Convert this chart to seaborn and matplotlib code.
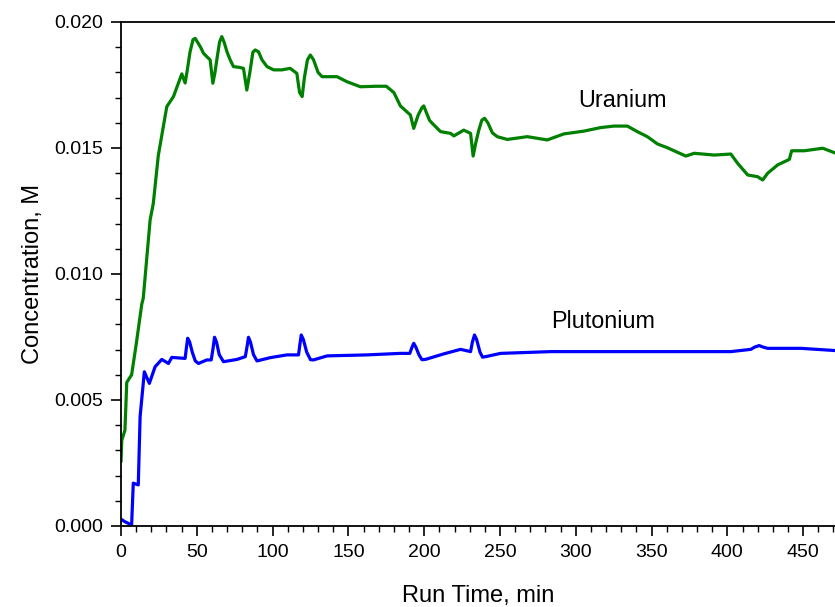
import numpy as np
import pandas as pd
import matplotlib
matplotlib.use("Agg")
import matplotlib.pyplot as plt
import seaborn as sns
from matplotlib.ticker import MultipleLocator, FormatStrFormatter

# Uranium concentration trace (Run Time, min ; Concentration, M)
u_time = [0, 0.5, 2.6, 3.8, 7, 10, 13.7, 14.7, 19.2, 21.3, 24.6, 30.2, 34.6, 40.1, 42.3, 43.5,
          45.5, 47.5, 48.9, 50.5, 52.5, 54.4, 57, 58.8, 60.6, 62, 63.2, 65, 66.5, 68, 70, 72,
          74.2, 78, 80.8, 83, 85, 87, 88.5, 90.7, 93, 96.3, 100.7, 106, 111.6, 116, 117.8,
          119.5, 121, 123, 124.9, 127, 130, 132.6, 142.5, 149.1, 157.9, 168, 175, 180, 184.3,
          190.9, 193.1, 196, 198.5, 199.7, 201.5, 203.5, 205.3, 210.8, 217.4, 219.6, 226.1,
          230.6, 232.3, 234, 236, 238, 239.8, 242, 245, 248.2, 254.8, 268, 281.2, 292.2,
          305.4, 316.4, 325.2, 334, 340.6, 347.2, 353.9, 360.4, 372.6, 378.1, 391.3, 402.3,
          406.8, 413.4, 420, 423.3, 426.6, 433.2, 440.9, 442.4, 450.7, 462.9, 471.7]
u_conc = [0.00255, 0.0034, 0.0038, 0.0057, 0.0060, 0.0072, 0.0088, 0.00905, 0.01214, 0.0128,
          0.0147, 0.01664, 0.01704, 0.01794, 0.01758, 0.0180,
          0.0188, 0.0193, 0.01935, 0.0192, 0.0190, 0.01876, 0.0186, 0.0185, 0.01757, 0.0180,
          0.0185, 0.0192, 0.01942, 0.0192, 0.0188, 0.0185,
          0.01823, 0.0182, 0.01816, 0.0173, 0.0180, 0.0188, 0.01889, 0.01882, 0.0185, 0.01823,
          0.0181, 0.0181, 0.01816, 0.01796, 0.0172,
          0.01704, 0.0178, 0.0185, 0.01869, 0.0185, 0.0180, 0.01783, 0.01783, 0.01763, 0.01743,
          0.01745, 0.01745, 0.0172, 0.01667,
          0.01631, 0.01578, 0.0163, 0.0166, 0.01667, 0.0164, 0.0161, 0.01598, 0.01565, 0.01558,
          0.01548, 0.01571,
          0.01558, 0.01468, 0.0152, 0.0157, 0.0161, 0.01618, 0.0160, 0.0156, 0.01545, 0.01534,
          0.01545, 0.01532, 0.01556,
          0.01567, 0.01581, 0.01587, 0.01587, 0.01565, 0.01545, 0.01516, 0.01501, 0.01468,
          0.01479, 0.01472, 0.01476,
          0.01439, 0.01393, 0.01386, 0.01373, 0.0140, 0.01433, 0.01455, 0.01489, 0.01489,
          0.01499, 0.01479]

# Plutonium concentration trace
p_time = [0, 2.6, 7, 8.1, 11.4, 12.6, 15.4, 18.7, 22.5, 26.9, 31.3, 33.5, 42.3, 43.2, 44,
          45.3, 47, 49, 51.1, 56.6, 59.5, 60.6, 61.7, 63, 64.8, 67.6, 76.5, 82, 83.1, 84.1,
          85.4, 87.4, 89.7, 98.4, 109.5, 117.1, 118, 118.9, 120.3, 122.5, 125, 127, 135.9,
          162.3, 184.3, 190.5, 192, 193.1, 194.5, 196.5, 198.5, 200.8, 212.9, 224, 230.6,
          231.8, 233.2, 234.6, 236.8, 238.5, 240.5, 250.4, 283.4, 338.5, 402.3, 415.5, 418,
          421, 423.5, 426.6, 448.6, 471.7]
p_conc = [0.00027, 0.00017, 0.00004, 0.0017, 0.00163, 0.00434, 0.00612, 0.00566, 0.00632,
          0.00661, 0.00645, 0.00669, 0.00665, 0.0071, 0.00745,
          0.0073, 0.0069, 0.00655, 0.00645, 0.00659, 0.00659, 0.0070, 0.00749, 0.0073, 0.0068,
          0.00652, 0.00661, 0.00672, 0.0071, 0.00749,
          0.0073, 0.0068, 0.00655, 0.00668, 0.00679, 0.00679, 0.0072, 0.00758, 0.0074, 0.0069,
          0.0066, 0.00659, 0.00675,
          0.00679, 0.00685, 0.00685, 0.0071, 0.00725, 0.0071, 0.0068, 0.0066, 0.00661, 0.00683,
          0.00701, 0.00692,
          0.0073, 0.00758, 0.0074, 0.0069, 0.0067, 0.00672, 0.00685, 0.00692, 0.00692, 0.00692,
          0.00701, 0.0071,
          0.00716, 0.0071, 0.00705, 0.00705, 0.00696]

labels = ["Uranium", "Plutonium"]
label_pos_x = [331, 318]
label_pos_y = [0.01687, 0.0081]

sns.set_style("ticks")
plt.rcParams['font.family'] = ['Liberation Sans', 'DejaVu Sans']
plt.rcParams['text.color'] = 'black'
plt.rcParams['axes.labelcolor'] = 'black'

fig = plt.figure(figsize=(8.35, 6.07), dpi=100)
ax = fig.add_axes([121 / 835, 81 / 607, (835 - 121) / 835, 504 / 607])

u_df = pd.DataFrame({"time": u_time, "conc": u_conc})
p_df = pd.DataFrame({"time": p_time, "conc": p_conc})
sns.lineplot(data=u_df, x="time", y="conc", color="#008000", linewidth=2.3, ax=ax,
             errorbar=None, estimator=None)
sns.lineplot(data=p_df, x="time", y="conc", color="#0000FF", linewidth=2.3, ax=ax,
             errorbar=None, estimator=None)

for lab, lx, ly in zip(labels, label_pos_x, label_pos_y):
    ax.text(lx, ly, lab, ha="center", va="center", fontsize=16.8, color="black")

ax.set_xlim(0, 471)
ax.set_ylim(0, 0.020)
ax.xaxis.set_major_locator(MultipleLocator(50))
ax.xaxis.set_minor_locator(MultipleLocator(10))
ax.yaxis.set_major_locator(MultipleLocator(0.005))
ax.yaxis.set_minor_locator(MultipleLocator(0.001))
ax.yaxis.set_major_formatter(FormatStrFormatter("%.3f"))

ax.tick_params(axis="both", which="major", direction="out", length=7, width=1.2,
               labelsize=14, colors="black", labelcolor="black", pad=6)
ax.tick_params(axis="both", which="minor", direction="out", length=4, width=1.0,
               colors="black")
ax.tick_params(top=False, right=False, which="both")

for s in ["left", "bottom", "top"]:
    ax.spines[s].set_visible(True)
    ax.spines[s].set_color("black")
    ax.spines[s].set_linewidth(1.3)
ax.spines["right"].set_visible(False)

ax.set_xlabel("Run Time, min", fontsize=17, labelpad=17, color="black")
ax.set_ylabel("Concentration, M", fontsize=17, labelpad=7, color="black")

fig.savefig("out.png", dpi=100)
